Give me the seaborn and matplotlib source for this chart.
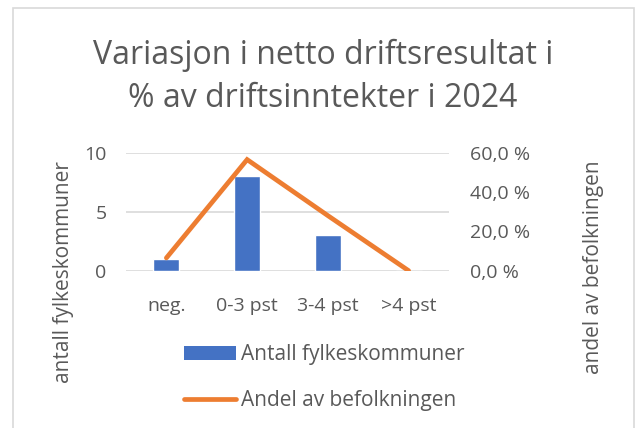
import matplotlib
matplotlib.use("Agg")
import matplotlib.pyplot as plt
import seaborn as sns
import pandas as pd
from matplotlib.patches import Rectangle, Patch
from matplotlib.lines import Line2D
from matplotlib.ticker import FuncFormatter

categories = ["neg.", "0-3 pst", "3-4 pst", ">4 pst"]
antall = [1, 8, 3, 0]
andel = [0.065, 0.565, 0.28, 0.0]
left_ticks = [0, 5, 10]
right_ticks = [0.0, 0.2, 0.4, 0.6]
title = "Variasjon i netto driftsresultat i\n% av driftsinntekter i 2024"
ylabel_left = "antall fylkeskommuner"
ylabel_right = "andel av befolkningen"
legend_labels = ["Antall fylkeskommuner", "Andel av befolkningen"]

sns.set_style("white")
plt.rcParams["font.family"] = ["Open Sans", "DejaVu Sans"]

TXT = "#595959"
BLUE = "#4472C4"
ORANGE = "#ED7D31"
GRID = "#D9D9D9"
W, H = 636, 428

fig = plt.figure(figsize=(W / 100, H / 100), dpi=100)
ax = fig.add_axes([126 / W, 1 - 270.7 / H, (449 - 126) / W, (270.7 - 152.7) / H])

df = pd.DataFrame({"cat": categories, "antall": antall, "andel": andel})
sns.barplot(data=df, x="cat", y="antall", ax=ax, color=BLUE, width=0.32,
            saturation=1, zorder=3)
ax.set_ylim(0, 10)
ax.set_xlim(-0.5, 3.5)
ax.set_yticks(left_ticks)
ax.yaxis.grid(True, color=GRID, linewidth=1.2, zorder=0)
ax.set_axisbelow(True)
ax.set_xlabel("")
ax.set_ylabel("")
for s in ax.spines.values():
    s.set_visible(False)
ax.tick_params(axis="both", length=0, labelsize=14, colors=TXT)
ax.tick_params(axis="y", pad=14)
ax.tick_params(axis="x", pad=19)

ax2 = ax.twinx()
sns.lineplot(data=df, x="cat", y="andel", ax=ax2, color=ORANGE, linewidth=3.4,
             solid_capstyle="round", solid_joinstyle="miter")
ax2.set_ylim(0, 0.6)
ax2.set_yticks(right_ticks)
ax2.yaxis.set_major_formatter(FuncFormatter(lambda v, p: f"{v*100:.1f} %".replace(".", ",")))
ax2.set_xlim(-0.5, 3.5)
ax2.set_ylabel("")
ax2.set_xlabel("")
for s in ax2.spines.values():
    s.set_visible(False)
ax2.tick_params(axis="both", length=0, labelsize=14, colors=TXT)
ax2.tick_params(axis="y", pad=15)

fig.text(323 / W, 1 - 77 / H, title, ha="center", va="center", fontsize=23,
         color=TXT, linespacing=1.4)
fig.text(63 / W, 1 - 272 / H, ylabel_left, rotation=90, ha="center", va="center",
         fontsize=15, color=TXT)
fig.text(593 / W, 1 - 267 / H, ylabel_right, rotation=90, ha="center", va="center",
         fontsize=15, color=TXT)

handles = [Patch(facecolor=BLUE, edgecolor="none"),
           Line2D([0], [0], color=ORANGE, linewidth=3.4, solid_capstyle="round")]
leg = fig.legend(handles, legend_labels, loc="center", bbox_to_anchor=(324 / W, 1 - 377.5 / H),
                 frameon=False, fontsize=15, handlelength=2.5, handleheight=0.68,
                 handletextpad=0.25, labelspacing=1.2, labelcolor=TXT)

fig.add_artist(Rectangle((13 / W, -0.1), (634 - 13) / W, 1 - 8 / H + 0.1,
                         transform=fig.transFigure, fill=False, edgecolor=GRID,
                         linewidth=1.2))

fig.savefig("out.png", dpi=100)
